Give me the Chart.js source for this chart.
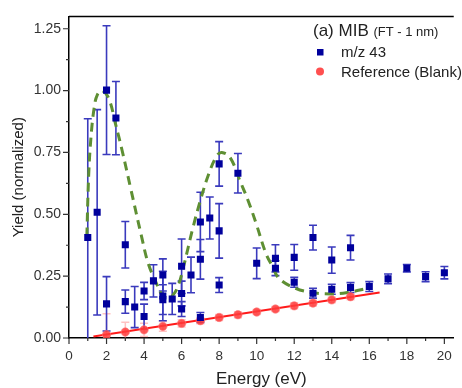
<!DOCTYPE html>
<html>
<head>
<meta charset="utf-8">
<script src="https://cdn.jsdelivr.net/npm/chart.js@4.4.1/dist/chart.umd.min.js"></script>
<style>
  html, body { margin: 0; padding: 0; background: #fff; }
  #wrap { width: 462px; height: 388px; }
</style>
</head>
<body>
<div id="wrap"><canvas id="chart"></canvas></div>
<script>
var FONT = "'Liberation Sans', Arial, sans-serif";

// m/z 43 measurements (energy, yield, error)
var mzX   = [1, 1.5, 2, 2, 2.5, 3, 3, 3.5, 4, 4, 4.5, 5, 5, 5, 5.5, 6, 6, 6, 6.5, 7, 7, 7, 7.5, 8, 8, 8, 9, 10, 11, 11, 12, 12, 13, 13, 14, 14, 15, 15, 16, 17, 18, 19, 20];
var mzY   = [0.406, 0.508, 1.002, 0.138, 0.889, 0.377, 0.147, 0.125, 0.19, 0.087, 0.231, 0.255, 0.17, 0.155, 0.158, 0.29, 0.18, 0.117, 0.255, 0.469, 0.318, 0.083, 0.485, 0.704, 0.433, 0.214, 0.666, 0.302, 0.322, 0.282, 0.326, 0.225, 0.406, 0.181, 0.315, 0.197, 0.365, 0.204, 0.208, 0.239, 0.282, 0.248, 0.264];
var mzErr = [0.48, 0.415, 0.26, 0.11, 0.148, 0.094, 0.047, 0.083, 0.035, 0.05, 0.065, 0.065, 0.10, 0.06, 0.063, 0.11, 0.05, 0.03, 0.072, 0.12, 0.08, 0.02, 0.085, 0.09, 0.11, 0.03, 0.08, 0.062, 0.055, 0.03, 0.052, 0.02, 0.05, 0.02, 0.053, 0.02, 0.05, 0.02, 0.02, 0.02, 0.015, 0.02, 0.025];

// Reference (Blank)
var refX   = [2, 3, 4, 5, 6, 7, 8, 9, 10, 11, 12, 13, 14, 15];
var refY   = [0.013, 0.024, 0.033, 0.047, 0.059, 0.07, 0.083, 0.094, 0.105, 0.117, 0.13, 0.141, 0.154, 0.167];
var refErr = [0.085, 0.04, 0.027, 0.02, 0.015, 0.012, 0.012, 0.012, 0.01, 0.01, 0.012, 0.012, 0.012, 0.012];

// linear fit of the reference
var fitX = [1.3, 16.55];
var fitY = [0.006, 0.184];

// two-peak fit (dashed green)
var peakX = [0.95, 1.05, 1.17, 1.34, 1.52, 1.78, 2.13, 2.48, 2.83, 3.3, 3.87, 4.22, 4.66, 5.0, 5.27, 5.5, 5.79, 6.14, 6.57, 7.0, 7.45, 7.88, 8.14, 8.58, 9.1, 9.54, 9.97, 10.5, 10.85, 11.19, 12.07, 12.94, 13.98, 14.85, 15.9, 16.1];
var peakY = [0.41, 0.66, 0.81, 0.93, 0.985, 1.0, 0.966, 0.865, 0.758, 0.6, 0.409, 0.302, 0.221, 0.17, 0.161, 0.17, 0.205, 0.3, 0.436, 0.556, 0.664, 0.737, 0.75, 0.73, 0.637, 0.556, 0.463, 0.34, 0.288, 0.241, 0.201, 0.184, 0.178, 0.184, 0.201, 0.205];

var xMinor = [1, 3, 5, 7, 9, 11, 13, 15, 17, 19];
var yMinor = [0.125, 0.375, 0.625, 0.875, 1.125];

function pts(xs, ys) {
  return xs.map(function(x, i) { return {x: x, y: ys[i]}; });
}

function errBars(chart, xs, ys, es, color, cap, width) {
  var ctx = chart.ctx, sx = chart.scales.x, sy = chart.scales.y, a = chart.chartArea;
  ctx.save();
  ctx.beginPath();
  ctx.rect(a.left, a.top, a.right - a.left, a.bottom - a.top);
  ctx.clip();
  ctx.strokeStyle = color;
  ctx.lineWidth = width;
  for (var i = 0; i < xs.length; i++) {
    var px = sx.getPixelForValue(xs[i]);
    var top = sy.getPixelForValue(ys[i] + es[i]);
    var bot = sy.getPixelForValue(ys[i] - es[i]);
    ctx.beginPath();
    ctx.moveTo(px, top); ctx.lineTo(px, bot);
    ctx.moveTo(px - cap, top); ctx.lineTo(px + cap, top);
    ctx.moveTo(px - cap, bot); ctx.lineTo(px + cap, bot);
    ctx.stroke();
  }
  ctx.restore();
}

var extras = {
  id: 'extras',
  beforeDatasetsDraw: function(chart) {
    errBars(chart, refX, refY, refErr, 'rgba(255,120,120,0.45)', 4, 1.5);
    errBars(chart, mzX, mzY, mzErr, '#3a3abd', 4, 1.6);
  },
  afterDraw: function(chart) {
    var ctx = chart.ctx, sx = chart.scales.x, sy = chart.scales.y, a = chart.chartArea;
    ctx.save();
    ctx.strokeStyle = '#000';
    ctx.lineWidth = 1.5;
    // top frame line
    ctx.beginPath();
    ctx.moveTo(a.left, a.top); ctx.lineTo(a.right, a.top);
    ctx.stroke();
    ctx.lineWidth = 1.2;
    ctx.strokeStyle = '#333';
    ctx.beginPath();
    sx.ticks.forEach(function(t) {
      var p = sx.getPixelForValue(t.value);
      ctx.moveTo(p, a.bottom); ctx.lineTo(p, a.bottom + 6);
    });
    xMinor.forEach(function(v) {
      var p = sx.getPixelForValue(v);
      ctx.moveTo(p, a.bottom); ctx.lineTo(p, a.bottom + 3);
    });
    sy.ticks.forEach(function(t) {
      var p = sy.getPixelForValue(t.value);
      ctx.moveTo(a.left, p); ctx.lineTo(a.left - 6, p);
    });
    yMinor.forEach(function(v) {
      var p = sy.getPixelForValue(v);
      ctx.moveTo(a.left, p); ctx.lineTo(a.left - 3, p);
    });
    ctx.stroke();

    // legend
    ctx.fillStyle = '#222';
    ctx.textBaseline = 'alphabetic';
    ctx.textAlign = 'left';
    ctx.font = '17px ' + FONT;
    ctx.fillText('(a) MIB', 313, 36);
    var w = ctx.measureText('(a) MIB ').width;
    ctx.font = '13px ' + FONT;
    ctx.fillText('(FT - 1 nm)', 313 + w, 36);
    ctx.font = '15px ' + FONT;
    ctx.fillText('m/z 43', 341, 57);
    ctx.fillText('Reference (Blank)', 341, 77);
    ctx.fillStyle = '#00009c';
    ctx.fillRect(317, 49, 6.5, 6.5);
    ctx.fillStyle = 'rgba(255,60,60,0.9)';
    ctx.beginPath();
    ctx.arc(320, 71.5, 4, 0, Math.PI * 2);
    ctx.fill();
    ctx.restore();
  }
};

new Chart(document.getElementById('chart'), {
  type: 'scatter',
  data: {
    datasets: [
      {label: 'm/z 43', data: pts(mzX, mzY), pointStyle: 'rect', pointRadius: 5,
       backgroundColor: '#00009c', borderColor: '#00009c', borderWidth: 0, order: 0},
      {label: 'Reference (Blank)', data: pts(refX, refY), pointStyle: 'circle', pointRadius: 4.2,
       backgroundColor: 'rgba(255,60,60,0.85)', borderColor: 'rgba(255,120,120,0.6)', borderWidth: 1, order: 1},
      {label: 'fit', data: pts(fitX, fitY), showLine: true, pointRadius: 0,
       borderColor: '#ff1a1a', borderWidth: 2, order: 2},
      {label: 'peaks', data: pts(peakX, peakY), showLine: true, pointRadius: 0, tension: 0.4,
       borderColor: '#5e8f33', borderWidth: 3, borderDash: [9, 6], order: 3}
    ]
  },
  options: {
    responsive: true,
    maintainAspectRatio: false,
    animation: false,
    layout: {padding: {top: 15, right: 1, left: 0, bottom: 0}},
    plugins: {legend: {display: false}, tooltip: {enabled: false}},
    scales: {
      x: {
        type: 'linear', min: 0, max: 20.5,
        grid: {display: false, drawTicks: false},
        border: {display: true, color: '#000', width: 1.5},
        ticks: {stepSize: 2, includeBounds: false, padding: 10, color: '#333',
                font: {family: FONT, size: 13.5}},
        title: {display: true, text: 'Energy (eV)', color: '#222',
                font: {family: FONT, size: 17, lineHeight: 1}, padding: 0},
        afterFit: function(s) { s.height = 50; }
      },
      y: {
        type: 'linear', min: 0, max: 1.3,
        grid: {display: false, drawTicks: false},
        border: {display: true, color: '#000', width: 1.5},
        ticks: {stepSize: 0.25, includeBounds: false, padding: 8, color: '#333',
                font: {family: FONT, size: 14},
                callback: function(v) { return v.toFixed(2); }},
        title: {display: true, text: 'Yield (normalized)', color: '#222',
                font: {family: FONT, size: 15, lineHeight: 1}, padding: {top: 11, bottom: 0}},
        afterFit: function(s) { s.width = 69; }
      }
    }
  },
  plugins: [extras]
});
</script>
</body>
</html>
